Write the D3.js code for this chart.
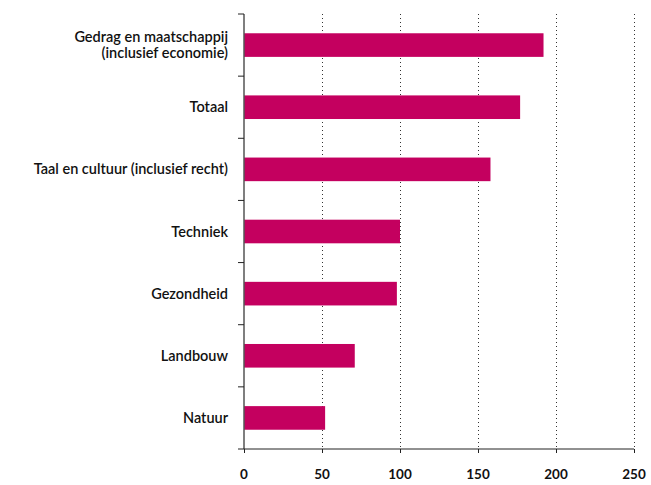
<!DOCTYPE html>
<html>
<head>
<meta charset="utf-8">
<script src="https://cdn.jsdelivr.net/npm/d3@7"></script>
<style>
  body { margin: 0; background: #fff; }
  text { font-family: Lato, "Open Sans", sans-serif; }
</style>
</head>
<body>
<script>
let w = 651;
let h = 485;

// categories top to bottom, label lines
let categories = [
  ["Gedrag en maatschappij", "(inclusief economie)"],
  ["Totaal"],
  ["Taal en cultuur (inclusief recht)"],
  ["Techniek"],
  ["Gezondheid"],
  ["Landbouw"],
  ["Natuur"]
];
let values = [192, 177, 158, 100, 98, 71, 52];
let xTicks = [0, 50, 100, 150, 200, 250];

let plotLeft = 244, plotRight = 634, plotTop = 14, plotBottom = 449;
let barColor = "#c4005f";

let svg = d3.select("body").append("svg").attr("width", w).attr("height", h);

let xScale = d3.scaleLinear().domain([0, 250]).range([plotLeft, plotRight]);
let yScale = d3.scaleBand()
  .domain(d3.range(categories.length))
  .range([plotTop, plotBottom])
  .paddingInner(0.62)
  .paddingOuter(0.31);

// dotted gridlines
svg.append("g")
  .selectAll("line")
  .data(xTicks.filter(d => d > 0))
  .enter()
  .append("line")
  .attr("x1", d => xScale(d) + 0.5)
  .attr("x2", d => xScale(d) + 0.5)
  .attr("y1", plotTop)
  .attr("y2", plotBottom)
  .attr("stroke", "#333")
  .attr("stroke-width", 1)
  .attr("stroke-dasharray", "1,3");

// bars
svg.append("g")
  .selectAll("rect")
  .data(values)
  .enter()
  .append("rect")
  .attr("x", xScale(0))
  .attr("y", (d, i) => yScale(i))
  .attr("width", d => xScale(d) - xScale(0))
  .attr("height", yScale.bandwidth())
  .attr("fill", barColor);

// y axis line and band ticks
let step = yScale.step();
svg.append("line")
  .attr("x1", plotLeft).attr("x2", plotLeft)
  .attr("y1", plotTop).attr("y2", plotBottom)
  .attr("stroke", "#555").attr("stroke-width", 1.5);

svg.append("g")
  .selectAll("line")
  .data(d3.range(categories.length))
  .enter()
  .append("line")
  .attr("x1", plotLeft - 6).attr("x2", plotLeft)
  .attr("y1", (d, i) => plotTop + i * step)
  .attr("y2", (d, i) => plotTop + i * step)
  .attr("stroke", "#222").attr("stroke-width", 1);

// category labels
let labels = svg.append("g")
  .selectAll("text")
  .data(categories)
  .enter()
  .append("text")
  .attr("text-anchor", "end")
  .attr("font-size", "14.5px")
  .attr("font-weight", 600)
  .attr("fill", "#111")
  .attr("y", (d, i) => yScale(i) + yScale.bandwidth() / 2 - (d.length - 1) * 8 + 5);

labels.selectAll("tspan")
  .data(d => d)
  .enter()
  .append("tspan")
  .attr("x", 228)
  .attr("dy", (d, i) => i === 0 ? 0 : 16)
  .text(d => d);

// x axis
svg.append("line")
  .attr("x1", plotLeft - 6).attr("x2", plotRight)
  .attr("y1", plotBottom).attr("y2", plotBottom)
  .attr("stroke", "#222").attr("stroke-width", 1);

let xg = svg.append("g");
xg.selectAll("line")
  .data(xTicks)
  .enter()
  .append("line")
  .attr("x1", d => xScale(d) + 0.5).attr("x2", d => xScale(d) + 0.5)
  .attr("y1", plotBottom).attr("y2", plotBottom + 4)
  .attr("stroke", "#222");

xg.selectAll("text")
  .data(xTicks)
  .enter()
  .append("text")
  .attr("x", d => xScale(d))
  .attr("y", 479)
  .attr("text-anchor", "middle")
  .attr("font-size", "13.5px")
  .attr("font-weight", 700)
  .attr("fill", "#111")
  .text(d => d);
</script>
</body>
</html>
